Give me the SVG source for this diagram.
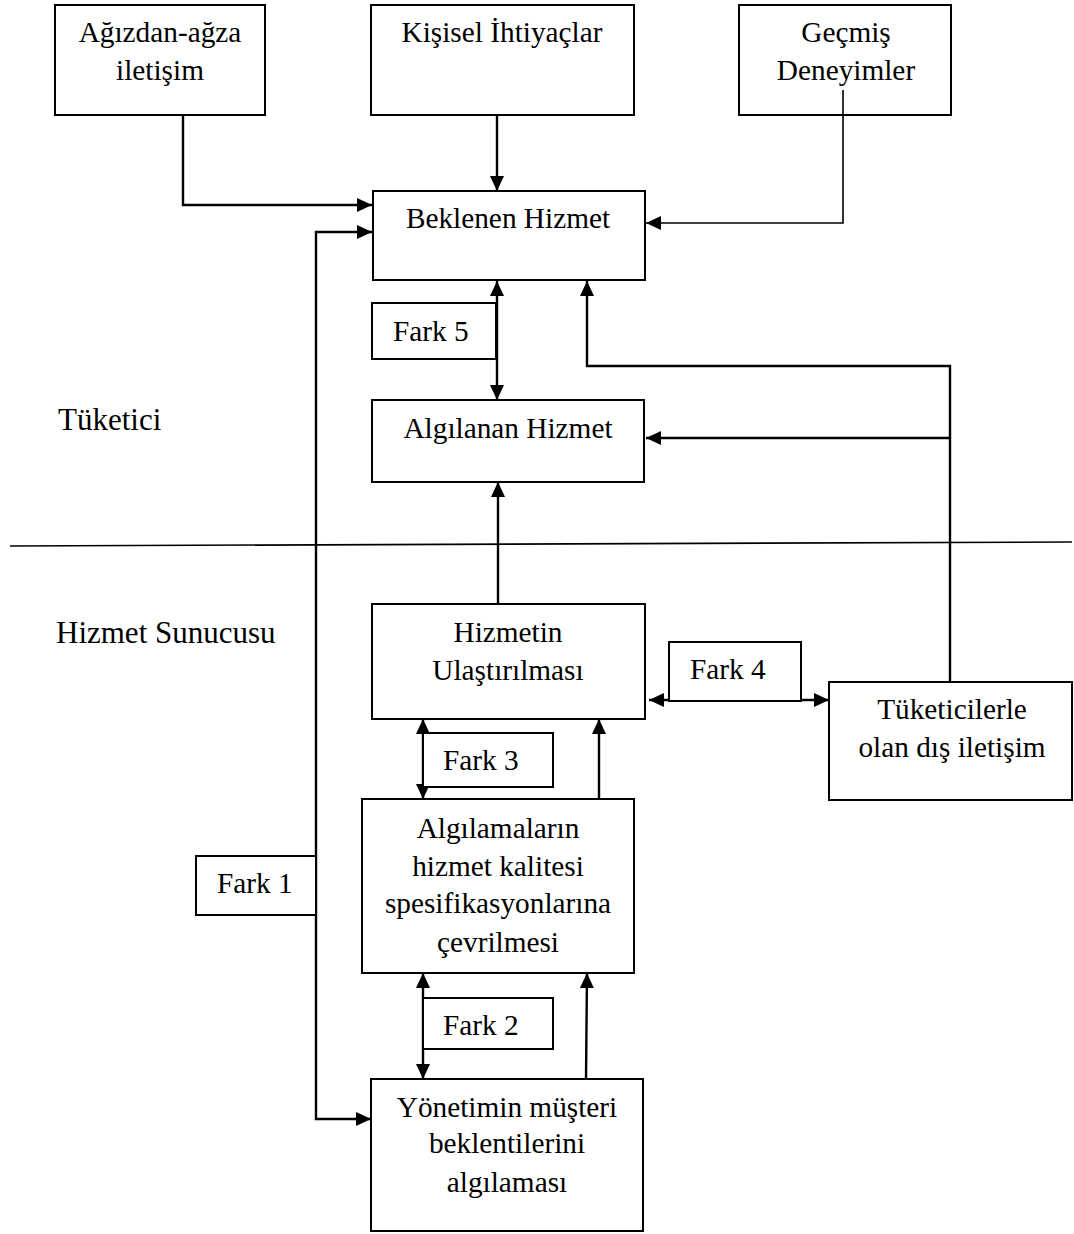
<svg xmlns="http://www.w3.org/2000/svg" width="1074" height="1234" viewBox="0 0 1074 1234">
  <style>
    .box { fill: #fff; stroke: #000; stroke-width: 2; }
    .lbl { fill: #fff; stroke: #000; stroke-width: 2; }
    text { font-family: "Liberation Serif", "Times New Roman", serif; font-size: 29.3px; fill: #000; }
    .side { font-size: 31px; }
    .c { text-anchor: middle; }
    .wire { fill: none; stroke: #000; stroke-width: 2.4; }
    .thin { fill: none; stroke: #000; stroke-width: 1.6; }
  </style>
  <defs>
    <marker id="arr" markerUnits="userSpaceOnUse" markerWidth="15" markerHeight="14" refX="15" refY="7" orient="auto-start-reverse">
      <path d="M0,0 L15,7 L0,14 Z" fill="#000"/>
    </marker>
  </defs>

  <rect width="1074" height="1234" fill="#fff"/>

  <!-- section divider and side labels -->
  <line x1="10" y1="546" x2="1072" y2="542" stroke="#000" stroke-width="1.6"/>
  <text class="side" x="58" y="430">Tüketici</text>
  <text class="side" x="56" y="643">Hizmet Sunucusu</text>

  <!-- connectors -->
  <g id="connectors">
    <path class="wire" d="M183,116 V205 H372" marker-end="url(#arr)"/>
    <path class="wire" d="M497,116 V191" marker-end="url(#arr)"/>
    <path class="thin" d="M843,90 V223 H646" marker-end="url(#arr)"/>
    <path class="wire" d="M372,232 H316 V1119 H371" marker-start="url(#arr)" marker-end="url(#arr)"/>
    <path class="wire" d="M497,281 V400" marker-start="url(#arr)" marker-end="url(#arr)"/>
    <path class="wire" d="M950,682 V366 H587 V281" marker-end="url(#arr)"/>
    <path class="wire" d="M950,438 H646" marker-end="url(#arr)"/>
    <path class="wire" d="M498,604 V482" marker-end="url(#arr)"/>
    <path class="wire" d="M649,700 H829" marker-start="url(#arr)" marker-end="url(#arr)"/>
    <path class="wire" d="M423,719 V799" marker-start="url(#arr)" marker-end="url(#arr)"/>
    <path class="wire" d="M599,799 V719" marker-end="url(#arr)"/>
    <path class="wire" d="M423,973 V1079" marker-start="url(#arr)" marker-end="url(#arr)"/>
    <path class="wire" d="M586,1079 L587,973" marker-end="url(#arr)"/>
  </g>

  <!-- nodes -->
  <g id="agizdan-agza">
    <rect class="box" x="55" y="5" width="210" height="110"/>
    <text class="c" x="160" y="42">Ağızdan-ağza</text>
    <text class="c" x="160" y="80">iletişim</text>
  </g>
  <g id="kisisel-ihtiyaclar">
    <rect class="box" x="371" y="5" width="263" height="110"/>
    <text class="c" x="502" y="42">Kişisel İhtiyaçlar</text>
  </g>
  <g id="gecmis-deneyimler">
    <rect class="box" x="739" y="5" width="212" height="110"/>
    <text class="c" x="846" y="42">Geçmiş</text>
    <text class="c" x="846" y="80">Deneyimler</text>
  </g>
  <!-- experience link starts inside its own box, under the second line -->
  <line x1="843" y1="90" x2="843" y2="116" stroke="#000" stroke-width="1.6"/>

  <g id="beklenen-hizmet">
    <rect class="box" x="373" y="191" width="272" height="89"/>
    <text class="c" x="508" y="228">Beklenen Hizmet</text>
  </g>
  <g id="fark5">
    <rect class="lbl" x="372" y="303" width="124" height="56"/>
    <text x="393" y="341">Fark 5</text>
  </g>
  <g id="algilanan-hizmet">
    <rect class="box" x="372" y="400" width="272" height="82"/>
    <text class="c" x="508" y="438">Algılanan Hizmet</text>
  </g>
  <g id="hizmetin-ulastirilmasi">
    <rect class="box" x="372" y="604" width="273" height="115"/>
    <text class="c" x="508" y="642">Hizmetin</text>
    <text class="c" x="508" y="680">Ulaştırılması</text>
  </g>
  <g id="fark4">
    <rect class="lbl" x="669" y="642" width="132" height="59"/>
    <text x="690" y="679">Fark 4</text>
  </g>
  <g id="tuketicilerle-iletisim">
    <rect class="box" x="829" y="682" width="243" height="118"/>
    <text class="c" x="952" y="719">Tüketicilerle</text>
    <text class="c" x="952" y="757">olan dış iletişim</text>
  </g>
  <g id="fark3">
    <rect class="lbl" x="423" y="733" width="130" height="54"/>
    <text x="443" y="770">Fark 3</text>
  </g>
  <g id="algilamalarin-cevrilmesi">
    <rect class="box" x="362" y="799" width="272" height="174"/>
    <text class="c" x="498" y="838">Algılamaların</text>
    <text class="c" x="498" y="876">hizmet kalitesi</text>
    <text class="c" x="498" y="913">spesifikasyonlarına</text>
    <text class="c" x="498" y="952">çevrilmesi</text>
  </g>
  <g id="fark1">
    <rect class="lbl" x="196" y="856" width="120" height="59"/>
    <text x="217" y="893">Fark 1</text>
  </g>
  <g id="fark2">
    <rect class="lbl" x="423" y="998" width="130" height="51"/>
    <text x="443" y="1035">Fark 2</text>
  </g>
  <g id="yonetimin-algilamasi">
    <rect class="box" x="371" y="1079" width="272" height="152"/>
    <text class="c" x="507" y="1117">Yönetimin müşteri</text>
    <text class="c" x="507" y="1153">beklentilerini</text>
    <text class="c" x="507" y="1192">algılaması</text>
  </g>
</svg>
